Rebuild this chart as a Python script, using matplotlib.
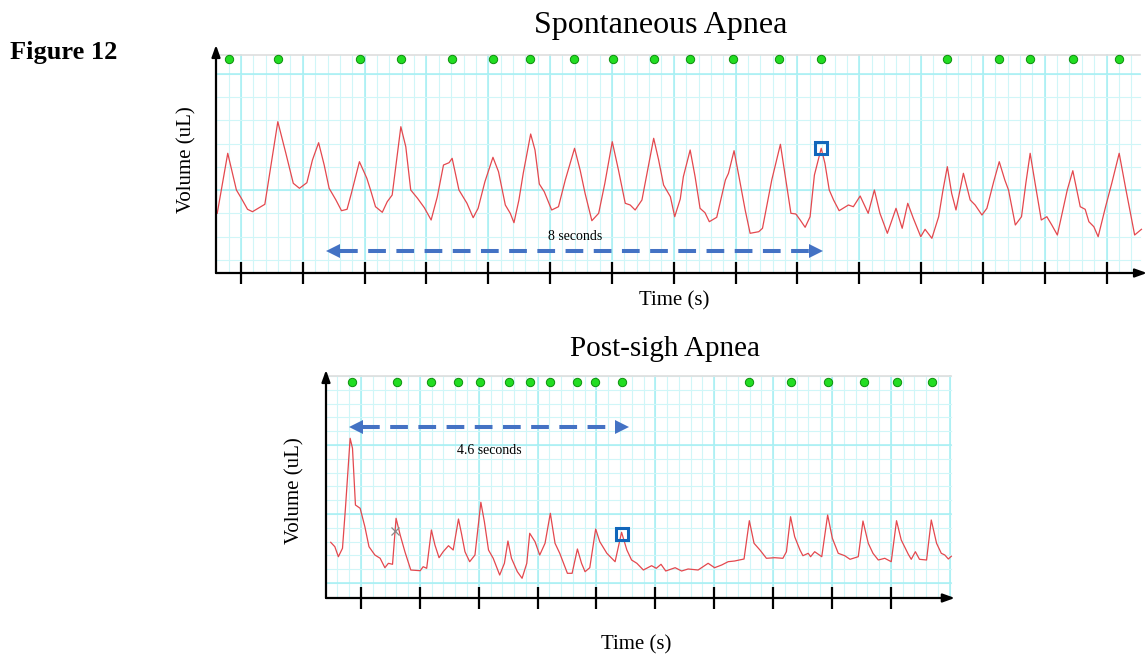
import numpy as np
import matplotlib.pyplot as plt

plt.rcParams['font.family'] = ['Liberation Serif', 'DejaVu Serif']

# Spontaneous apnea trace: time (s) and volume (arbitrary uL units)
spont_t = [0.02, 0.19, 0.33, 0.41, 0.51, 0.59, 0.70, 0.79, 0.86, 1.00, 1.13, 1.25, 1.35, 1.47,
           1.56, 1.66, 1.75, 1.83, 1.94, 2.03, 2.12, 2.19, 2.32, 2.44, 2.50, 2.58, 2.69, 2.77,
           2.85, 2.99, 3.07, 3.15, 3.26, 3.37, 3.48, 3.58, 3.68, 3.77, 3.82, 3.93, 4.06, 4.16,
           4.24, 4.35, 4.48, 4.57, 4.68, 4.76, 4.82, 4.90, 4.97, 5.09, 5.16, 5.23, 5.31, 5.43,
           5.54, 5.65, 5.80, 5.89, 5.97, 6.08, 6.19, 6.29, 6.41, 6.51, 6.62, 6.70, 6.78, 6.89,
           7.08, 7.16, 7.24, 7.35, 7.42, 7.51, 7.56, 7.67, 7.75, 7.83, 7.91, 7.98, 8.10, 8.24,
           8.29, 8.38, 8.46, 8.56, 8.64, 8.78, 8.84, 8.99, 9.13, 9.21, 9.30, 9.38, 9.45, 9.53,
           9.61, 9.68, 9.79, 9.85, 9.92, 9.99, 10.08, 10.23, 10.31, 10.42, 10.55, 10.65, 10.74,
           10.86, 11.00, 11.10, 11.19, 11.28, 11.40, 11.47, 11.58, 11.69, 11.76, 11.83, 11.90,
           11.97, 12.09, 12.20, 12.28, 12.39, 12.47, 12.58, 12.67, 12.76, 12.82, 12.93, 13.03,
           13.10, 13.17, 13.25, 13.35, 13.44, 13.52, 13.61, 13.77, 13.86, 13.98, 14.06, 14.12,
           14.20, 14.27, 14.39, 14.49, 14.61, 14.71, 14.86, 14.97]
spont_v = [5.97, 11.97, 8.30, 7.47, 6.37, 6.13, 6.53, 6.87, 9.63, 15.13, 11.97, 8.97, 8.47, 9.03,
           11.30, 13.03, 10.80, 8.47, 7.30, 6.23, 6.37, 7.97, 11.13, 9.47, 8.30, 6.63, 6.07, 7.13,
           7.80, 14.63, 12.63, 8.30, 7.47, 6.53, 5.30, 7.63, 10.80, 11.03, 11.47, 8.30, 6.97, 5.53,
           6.47, 9.13, 11.57, 10.13, 6.80, 5.97, 5.03, 7.30, 9.97, 13.90, 12.30, 8.90, 8.13, 6.30,
           6.63, 9.30, 12.47, 10.30, 7.97, 5.23, 5.97, 8.97, 13.13, 10.30, 6.97, 6.80, 6.30, 7.30,
           13.47, 11.30, 8.80, 7.63, 5.63, 7.40, 9.63, 12.30, 9.63, 6.47, 6.03, 5.13, 5.57, 9.30,
           9.97, 12.23, 9.63, 6.30, 3.97, 4.13, 4.47, 9.30, 12.87, 9.63, 5.97, 5.90, 5.30, 4.57,
           5.63, 9.80, 12.47, 10.97, 8.30, 7.30, 6.23, 6.80, 6.63, 7.70, 5.97, 8.30, 5.97,
           3.97, 6.47, 4.47, 6.97, 5.47, 3.63, 4.37, 3.47, 5.63, 8.30, 10.63, 7.97,
           6.30, 9.97, 7.30, 6.80, 5.80, 6.47, 9.13, 11.13, 9.30, 8.30, 4.80, 5.63,
           8.97, 11.97, 8.97, 5.30, 5.63, 4.80, 3.80, 8.30, 10.23, 6.63, 6.37, 5.13,
           4.63, 3.63, 6.63, 8.97, 11.97, 8.63, 3.80, 4.37]
spont_breaths = [0.21, 1.01, 2.33, 2.99, 3.82, 4.48, 5.08, 5.79, 6.42, 7.08, 7.67, 8.37, 9.11,
                 9.79, 11.82, 12.67, 13.16, 13.86, 14.61]
spont_marked = (9.79, 12.47)
spont_span = (1.80, 9.81)

# Post-sigh apnea trace
sigh_t = [0.08, 0.15, 0.21, 0.28, 0.33, 0.41, 0.45, 0.50, 0.58, 0.66, 0.73, 0.83, 0.92, 1.00,
          1.06, 1.13, 1.19, 1.26, 1.34, 1.44, 1.60, 1.65, 1.71, 1.79, 1.85, 1.92, 1.99, 2.08,
          2.16, 2.25, 2.30, 2.36, 2.44, 2.53, 2.63, 2.69, 2.76, 2.84, 2.95, 3.03, 3.09, 3.15,
          3.25, 3.33, 3.41, 3.46, 3.55, 3.63, 3.72, 3.81, 3.89, 3.97, 4.10, 4.18, 4.27, 4.34,
          4.40, 4.48, 4.58, 4.65, 4.77, 4.91, 5.02, 5.11, 5.19, 5.28, 5.39, 5.53, 5.61, 5.69,
          5.77, 5.93, 6.04, 6.15, 6.32, 6.49, 6.60, 6.72, 6.83, 6.94, 7.10, 7.19, 7.27, 7.37,
          7.48, 7.62, 7.76, 7.82, 7.89, 7.96, 8.05, 8.10, 8.19, 8.23, 8.30, 8.42, 8.52, 8.60,
          8.70, 8.81, 8.90, 9.04, 9.12, 9.21, 9.29, 9.38, 9.49, 9.60, 9.69, 9.77, 9.89, 9.94,
          10.01, 10.08, 10.20, 10.28, 10.37, 10.45, 10.51, 10.57, 10.62]
sigh_v = [5.57, 5.13, 4.13, 4.97, 8.97, 15.97, 14.97, 9.30, 8.97, 7.13, 5.13, 4.30, 3.97, 3.03,
          3.47, 3.37, 7.97, 6.30, 4.63, 2.80, 2.73, 3.13, 2.97, 6.80, 5.30, 4.03, 4.63, 5.23,
          4.80, 7.90, 6.47, 4.63, 3.63, 4.30, 9.57, 7.63, 4.80, 3.97, 2.30, 3.47, 5.70, 3.97,
          2.63, 1.97, 3.47, 6.47, 5.63, 4.30, 5.47, 8.47, 5.47, 4.47, 2.47, 2.47, 4.90, 3.47,
          2.63, 3.03, 6.90, 5.63, 4.47, 3.63, 6.57, 4.80, 3.80, 3.47, 2.80, 3.23, 2.97, 3.37,
          2.70, 3.03, 2.70, 2.90, 2.80, 3.47, 3.03, 3.30, 3.63, 3.70, 3.90, 7.73, 5.47, 4.80,
          3.97, 4.03, 3.97, 4.63, 8.13, 6.13, 4.80, 4.23, 4.47, 4.13, 4.63, 4.13, 8.30, 5.97,
          4.47, 4.23, 3.87, 4.13, 7.70, 5.47, 4.47, 3.80, 3.97, 3.63, 7.73, 5.80, 4.37, 3.87,
          4.63, 3.87, 3.80, 7.80, 5.47, 4.47, 4.30, 3.90, 4.17]
sigh_breaths = [0.44, 1.20, 1.78, 2.25, 2.62, 3.10, 3.46, 3.81, 4.26, 4.57, 5.02, 7.19, 7.89,
                8.52, 9.14, 9.69, 10.29]
sigh_marked = (5.02, 6.40)
sigh_cross = (1.17, 6.73)
sigh_span = (0.41, 5.13)

W, H = 1147, 655
fig = plt.figure(figsize=(W / 100, H / 100), dpi=100)


def px_axes(x0, y0, x1, y1):
    # axes rectangle from pixel corners (left, top, right, bottom)
    return fig.add_axes([x0 / W, 1 - y1 / H, (x1 - x0) / W, (y1 - y0) / H])


def draw_grid(ax, xmax, vmin, vmaj, hmin, hmaj, ytop):
    minor_c, major_c = '#d0f6f8', '#a4eff3'
    for x in vmin:
        ax.plot([x, x], [0, ytop], color=minor_c, lw=0.8, zorder=1)
    for x in vmaj:
        ax.plot([x, x], [0, ytop], color=major_c, lw=1.1, zorder=1)
    for y in hmin:
        ax.plot([0, xmax], [y, y], color=minor_c, lw=0.8, zorder=1)
    for y in hmaj:
        ax.plot([0, xmax], [y, y], color=major_c, lw=1.1, zorder=1)
    ax.plot([0, xmax], [ytop, ytop], color='#dedede', lw=1.2, zorder=1)


def draw_axes_arrows(ax, xend, yend, ticks):
    for s in ax.spines.values():
        s.set_visible(False)
    kw = dict(arrowstyle='-|>,head_length=0.5,head_width=0.18', lw=1.6, color='black',
              shrinkA=0, shrinkB=0, mutation_scale=14)
    ax.annotate('', xy=(0, yend), xytext=(0, 0), arrowprops=kw, annotation_clip=False)
    ax.annotate('', xy=(xend, 0), xytext=(0, 0), arrowprops=kw, annotation_clip=False)
    ax.set_xticks(ticks)
    ax.set_yticks([])
    ax.tick_params(axis='x', direction='inout', length=16, width=1.6, color='black',
                   labelbottom=False)


def span_arrow(ax, t0, t1, v, label, lv, fs):
    c = '#4472c4'
    ax.plot([t0 + 0.2, t1 - 0.2], [v, v], color=c, lw=2.9, ls=(0, (4.4, 2.6)), zorder=4)
    ax.plot([t0 + 0.1], [v], marker='<', ms=10, color=c, mew=0, zorder=4)
    ax.plot([t1 - 0.1], [v], marker='>', ms=10, color=c, mew=0, zorder=4)
    ax.text((t0 + t1) / 2, lv, label, fontsize=fs, ha='center', va='center', zorder=4)


# ---------------- top panel ----------------
ax1 = px_axes(216, 45, 1147, 273)
ax1.set_xlim(0, 15.06)
ax1.set_ylim(0, 22.8)
draw_grid(ax1, 14.95, np.arange(0.005, 14.95, 0.2), np.arange(0.405, 14.9, 1.0),
          np.arange(1.3, 21, 2.33), [1.3 + 2.33 * 3, 1.3 + 2.33 * 8], 21.8)
ax1.plot(spont_t, spont_v, color='#e4484e', lw=0.9, zorder=3)
ax1.plot(spont_breaths, [21.4] * len(spont_breaths), 'o', ms=6, color='#22dd22',
         mec='#0d8f0d', mew=0.7, zorder=5)
ax1.plot(*spont_marked, 's', ms=8.5, mfc='none', mec='#1166bb', mew=2.2, zorder=5)
span_arrow(ax1, spont_span[0], spont_span[1], 2.2, '8 seconds', 3.6, 10)
draw_axes_arrows(ax1, 15.06, 22.8, np.arange(0.405, 14.5, 1.0))

# ---------------- bottom panel ----------------
ax2 = px_axes(326, 370, 956, 598)
ax2.set_xlim(0, 10.7)
ax2.set_ylim(0, 22.8)
draw_grid(ax2, 10.61, np.arange(0.194, 10.61, 0.2), np.arange(0.594, 10.6, 1.0),
          np.arange(1.5, 22.3, 1.38), [1.5 + 1.38 * k for k in (0, 5, 10)], 22.2)
ax2.plot(sigh_t, sigh_v, color='#e4484e', lw=0.9, zorder=3)
ax2.plot(sigh_breaths, [21.63] * len(sigh_breaths), 'o', ms=6, color='#22dd22',
         mec='#0d8f0d', mew=0.7, zorder=5)
ax2.plot(*sigh_marked, 's', ms=8.5, mfc='none', mec='#1166bb', mew=2.2, zorder=5)
ax2.plot(*sigh_cross, 'x', ms=6, color='#888888', mew=0.9, zorder=5)
span_arrow(ax2, sigh_span[0], sigh_span[1], 17.13, '4.6 seconds', 14.73, 10)
draw_axes_arrows(ax2, 10.68, 22.8, np.arange(0.594, 9.7, 1.0))

# ---------------- text ----------------
def ftext(x, y, s, **kw):
    fig.text(x / W, 1 - y / H, s, **kw)


ftext(10, 52, 'Figure 12', fontsize=19, fontweight='bold', ha='left', va='center')
ftext(661, 25, 'Spontaneous Apnea', fontsize=23, ha='center', va='center')
ftext(674, 301, 'Time (s)', fontsize=15, ha='center', va='center')
ftext(187, 160, 'Volume (uL)', fontsize=15, ha='center', va='center', rotation=90)
ftext(665, 349, 'Post-sigh Apnea', fontsize=21, ha='center', va='center')
ftext(636, 645, 'Time (s)', fontsize=15, ha='center', va='center')
ftext(295, 491, 'Volume (uL)', fontsize=15, ha='center', va='center', rotation=90)

fig.savefig('out.png', dpi=100)
